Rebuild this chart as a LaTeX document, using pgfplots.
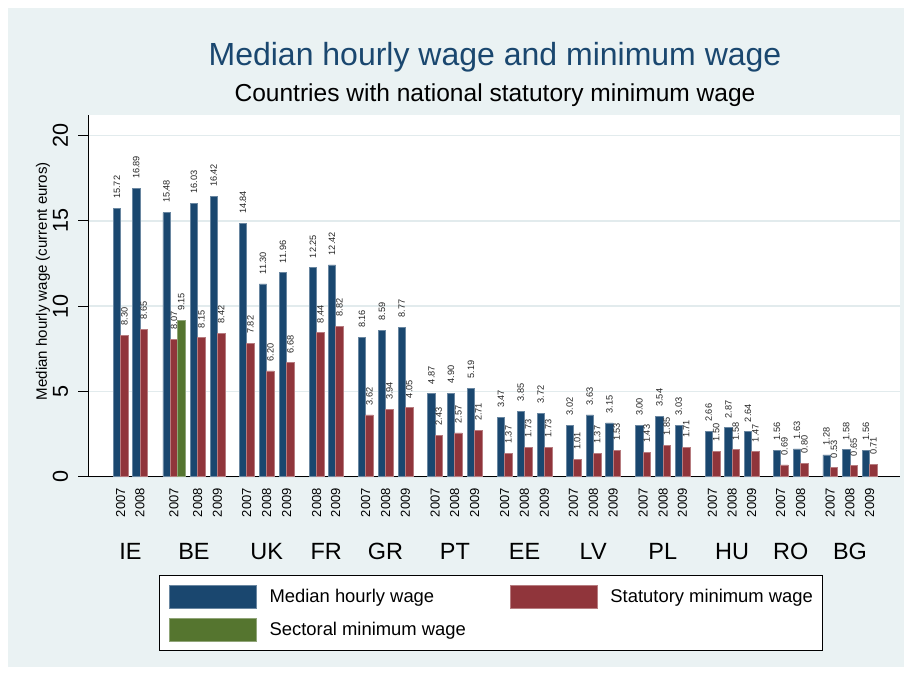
\documentclass[border=0pt]{standalone}
\usepackage{pgfplots}
\pgfplotsset{compat=1.18}
\usepackage{fontspec}
\setmainfont{Liberation Sans}
\definecolor{sblue}{HTML}{1A476F}
\definecolor{sred}{HTML}{90353B}
\definecolor{sgreen}{HTML}{55752F}
\definecolor{sbg}{HTML}{EAF2F3}
\definecolor{sgrid}{HTML}{E2EBED}
\pgfplotsset{
  sw/.style={legend image code/.code={\draw[##1, line width=0.4pt] (0pt,-8.5pt) rectangle (65.25pt,8.5pt);}},
  vals/.style={
    point meta=y,
    nodes near coords={\pgfmathprintnumber[fixed,fixed zerofill,precision=2,assume math mode=true]{\pgfplotspointmeta}},
    nodes near coords align=horizontal,
    every node near coord/.append style={rotate=90, anchor=west, inner xsep=7pt, inner ysep=0pt,
      font=\fontsize{6.9}{7}\selectfont, text=black!85}
  },
  mybar/.style={ybar, bar shift=0pt, bar width=7.4, draw=#1!65!white, line width=0.4pt, fill=#1, sw, vals}
}
\begin{document}
\begin{tikzpicture}[x=0.75pt,y=0.75pt]
\fill[white] (0,0) rectangle (912,675);
\fill[sbg] (8,8) rectangle (904,667);
\node[anchor=base, font=\fontsize{24}{26}\selectfont, text=sblue] at (495,609) {Median hourly wage and minimum wage};
\node[anchor=base, font=\fontsize{18.4}{20}\selectfont, text=black] at (495,573) {Countries with national statutory minimum wage};
\begin{axis}[
  at={(66.225pt,148.725pt)}, anchor=south west,
  scale only axis, width=608.78pt, height=271.28pt,
  xmin=88.3, xmax=900, ymin=0, ymax=21.2,
  clip=false,
  axis background/.style={fill=white},
  axis x line*=bottom, axis y line*=left,
  axis line style={-, black, line width=0.9pt},
  ytick={0,5,10,15,20},
  ymajorgrids, grid style={sgrid, line width=1.2pt},
  ytick pos=left, tick align=outside, major tick length=7.5pt,
  ytick style={black, line width=0.75pt},
  y tick label style={rotate=90, anchor=south, inner sep=0pt, font=\fontsize{16.2}{16}\selectfont},
  yticklabel shift=7.5pt,
  xtick={120.7,140.0,173.9,197.7,217.4,246.7,266.7,286.7,316.7,335.7,365.7,385.7,405.4,435.1,454.7,474.7,504.7,524.4,544.4,573.4,593.4,613.1,643.1,663.1,682.4,712.4,732.1,751.7,780.7,800.7,830.2,850.0,869.7},
  xticklabels={2007,2008,2007,2008,2009,2007,2008,2009,2008,2009,2007,2008,2009,2007,2008,2009,2007,2008,2009,2007,2008,2009,2007,2008,2009,2007,2008,2009,2007,2008,2007,2008,2009},
  xtick style={draw=none},
  x tick label style={rotate=90, anchor=east, inner sep=0pt, font=\fontsize{9.75}{10}\selectfont},
  xticklabel shift=1pt,
  /pgf/number format/assume math mode=true,
  ylabel={Median hourly wage (current euros)},
  every axis y label/.style={at={(-0.0558,0.5407)}, rotate=90, anchor=center, font=\fontsize{11.3}{12}\selectfont},
  legend columns=2,
  legend cell align=left,
  legend style={at={(0.4961,-0.2718)}, anchor=north, draw=black, line width=0.75pt, fill=white,
    font=\fontsize{13.8}{14}\selectfont, inner xsep=7pt, inner ysep=7pt, row sep=7.75pt,
    nodes={inner sep=0pt},
    /tikz/every odd column/.append style={column sep=9.75pt},
    /tikz/every even column/.append style={column sep=33pt}},
]
\addplot[mybar=sblue] table {
x y
117.0 15.72
136.3 16.89
166.5 15.48
194.0 16.03
213.7 16.42
243.0 14.84
263.0 11.30
283.0 11.96
313.0 12.25
332.0 12.42
362.0 8.16
382.0 8.59
401.7 8.77
431.4 4.87
451.0 4.90
471.0 5.19
501.0 3.47
520.7 3.85
540.7 3.72
569.7 3.02
589.7 3.63
609.4 3.15
639.4 3.00
659.4 3.54
678.7 3.03
708.7 2.66
728.4 2.87
748.0 2.64
777.0 1.56
797.0 1.63
826.5 1.28
846.3 1.58
866.0 1.56
};
\addlegendentry{Median hourly wage}
\addplot[mybar=sred] table {
x y
124.4 8.30
143.7 8.65
173.9 8.07
201.4 8.15
221.1 8.42
250.4 7.82
270.4 6.20
290.4 6.68
320.4 8.44
339.4 8.82
369.4 3.62
389.4 3.94
409.1 4.05
438.8 2.43
458.4 2.57
478.4 2.71
508.4 1.37
528.1 1.73
548.1 1.73
577.1 1.01
597.1 1.37
616.8 1.53
646.8 1.43
666.8 1.85
686.1 1.71
716.1 1.50
735.8 1.58
755.4 1.47
784.4 0.69
804.4 0.80
833.9 0.53
853.7 0.65
873.4 0.71
};
\addlegendentry{Statutory minimum wage}
\addplot[mybar=sgreen] table {
x y
181.3 9.15
};
\addlegendentry{Sectoral minimum wage}
\node[font=\fontsize{17.6}{18}\selectfont] at (axis cs:130.5,-4.36) {IE};
\node[font=\fontsize{17.6}{18}\selectfont] at (axis cs:193.9,-4.36) {BE};
\node[font=\fontsize{17.6}{18}\selectfont] at (axis cs:266.7,-4.36) {UK};
\node[font=\fontsize{17.6}{18}\selectfont] at (axis cs:326.2,-4.36) {FR};
\node[font=\fontsize{17.6}{18}\selectfont] at (axis cs:385.5,-4.36) {GR};
\node[font=\fontsize{17.6}{18}\selectfont] at (axis cs:454.9,-4.36) {PT};
\node[font=\fontsize{17.6}{18}\selectfont] at (axis cs:524.5,-4.36) {EE};
\node[font=\fontsize{17.6}{18}\selectfont] at (axis cs:593.2,-4.36) {LV};
\node[font=\fontsize{17.6}{18}\selectfont] at (axis cs:662.7,-4.36) {PL};
\node[font=\fontsize{17.6}{18}\selectfont] at (axis cs:732.0,-4.36) {HU};
\node[font=\fontsize{17.6}{18}\selectfont] at (axis cs:790.7,-4.36) {RO};
\node[font=\fontsize{17.6}{18}\selectfont] at (axis cs:850.0,-4.36) {BG};
\end{axis}
\end{tikzpicture}
\end{document}
